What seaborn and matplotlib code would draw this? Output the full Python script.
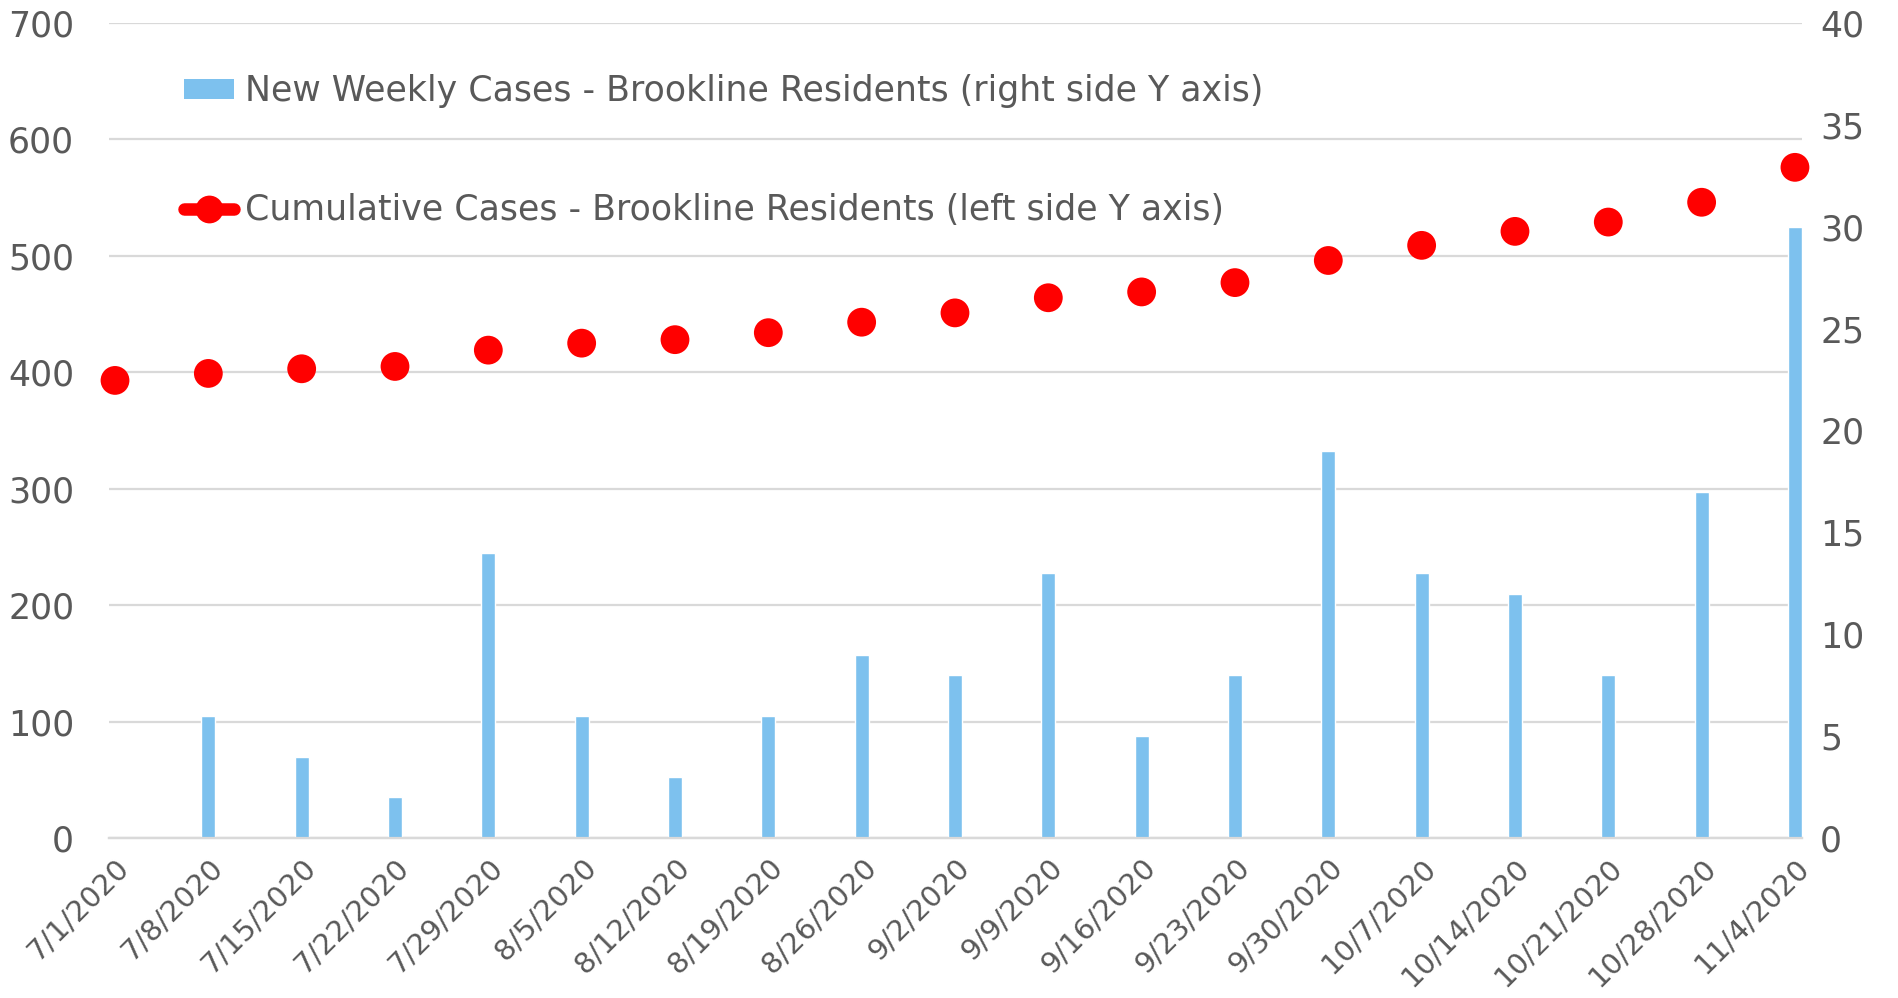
import numpy as np
import pandas as pd
import matplotlib
matplotlib.use("Agg")
import matplotlib.pyplot as plt
import seaborn as sns
from matplotlib.patches import Patch
from matplotlib.lines import Line2D

# ---- data ----
dates = ['7/1/2020', '7/8/2020', '7/15/2020', '7/22/2020', '7/29/2020', '8/5/2020',
         '8/12/2020', '8/19/2020', '8/26/2020', '9/2/2020', '9/9/2020', '9/16/2020',
         '9/23/2020', '9/30/2020', '10/7/2020', '10/14/2020', '10/21/2020',
         '10/28/2020', '11/4/2020']
weekly_cases = [0, 6, 4, 2, 14, 6, 3, 6, 9, 8, 13, 5, 8, 19, 13, 12, 8, 17, 30]
cumulative_cases = [393, 399, 403, 405, 419, 425, 428, 434, 443, 451, 464, 469, 477,
                    496, 509, 521, 529, 546, 576]

bar_label = 'New Weekly Cases - Brookline Residents (right side Y axis)'
dot_label = 'Cumulative Cases - Brookline Residents (left side Y axis)'

# ---- style ----
sns.set_style("white")
plt.rcParams['font.family'] = ['DejaVu Sans']
grey = '#595959'
grid_c = '#d9d9d9'
bar_c = '#7dc1ee'
red = '#ff0000'
fs = 25

df = pd.DataFrame({'pos': np.arange(len(dates)), 'date': dates,
                   'weekly': weekly_cases, 'cumulative': cumulative_cases})

fig = plt.figure(figsize=(18.98, 9.98), dpi=100)
ax = fig.add_axes([0.0574, 0.1603, 0.8920, 0.8167])
ax2 = ax.twinx()

# cumulative dots on the left axis
sns.scatterplot(data=df, x='pos', y='cumulative', ax=ax, color=red, s=430,
                edgecolor='none', legend=False, zorder=3, clip_on=False)

# weekly bars on the right axis
sns.barplot(data=df, x='pos', y='weekly', ax=ax2, native_scale=True, width=0.15,
            color=bar_c, saturation=1, legend=False)

ax.set_ylim(0, 700)
ax.set_yticks(range(0, 701, 100))
ax2.set_ylim(0, 40)
ax2.set_yticks(range(0, 41, 5))
ax.set_xlim(-0.065, 18.075)
ax2.set_xlim(-0.065, 18.075)

ax.yaxis.grid(True, color=grid_c, linewidth=1.6)
ax.set_axisbelow(True)
for a in (ax, ax2):
    for s in ['top', 'left', 'right']:
        a.spines[s].set_visible(False)
    a.spines['bottom'].set_color(grid_c)
    a.spines['bottom'].set_linewidth(1.6)
    a.set_xlabel('')
    a.set_ylabel('')
    a.tick_params(length=0, labelsize=fs, labelcolor=grey)

ax.tick_params(axis='y', pad=25)
ax2.tick_params(axis='y', pad=13)
ax.set_xticks(df['pos'])
ax.set_xticklabels(dates, rotation=45, ha='right', rotation_mode='anchor',
                   fontsize=21)
ax.tick_params(axis='x', pad=11)
ax2.set_xticks(df['pos'])
ax2.tick_params(axis='x', labelbottom=False)

handles = [Patch(facecolor=bar_c, edgecolor='none'),
           Line2D([0], [0], color=red, lw=9, marker='o', markersize=20,
                  markeredgecolor='none', solid_capstyle='round')]
leg = ax2.legend(handles, [bar_label, dot_label], loc='center left',
                 bbox_to_anchor=(0.097, 0.849), bbox_transform=fig.transFigure,
                 frameon=False, fontsize=fs, labelcolor=grey, borderpad=0,
                 borderaxespad=0, handlelength=1.45, handleheight=0.5,
                 handletextpad=0.3, labelspacing=2.45)

fig.savefig('out.png', dpi=100)
